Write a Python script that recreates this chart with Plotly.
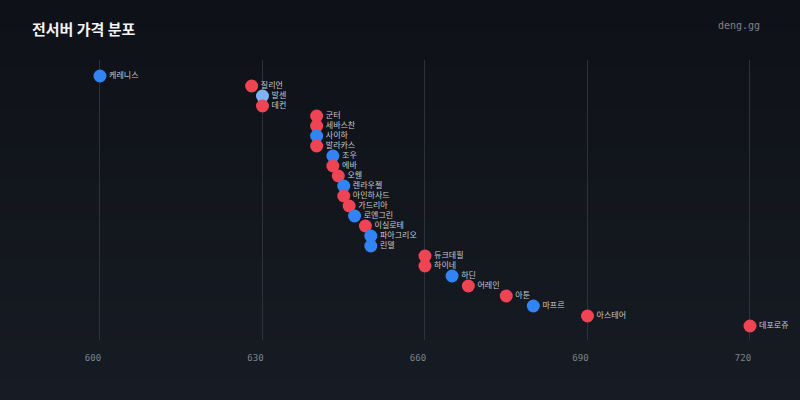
import plotly.graph_objects as go

# server names and prices (top to bottom)
names = ["케레니스", "질리언", "발센", "데컨", "군터", "세바스찬", "사이하", "발라카스",
         "조우", "에바", "오웬", "렌라우젤", "아인하사드", "가드리아", "로엔그린", "이실로테",
         "파아그리오", "린델", "듀크데필", "하이네", "하딘", "어레인", "아툰", "마프르",
         "아스테어", "데포로쥬"]
prices = [600, 628, 630, 630, 640, 640, 640, 640,
          643, 643, 644, 645, 645, 646, 647, 649,
          650, 650, 660, 660, 665, 668, 675, 680,
          690, 720]
groups = ["b", "r", "l", "r", "r", "r", "b", "r",
          "b", "r", "r", "b", "r", "r", "b", "r",
          "b", "b", "r", "r", "b", "r", "r", "b",
          "r", "r"]
tick_vals = [600, 630, 660, 690, 720]

palette = {"r": "#ef4454", "b": "#3284f5", "l": "#7fb2f5"}
colors = [palette[g] for g in groups]

fig = go.Figure(go.Scatter(
    x=prices,
    y=list(range(len(names))),
    mode="markers+text",
    text=names,
    textposition="middle right",
    textfont=dict(family="Noto Sans CJK KR", size=8, color="#c4c9d0"),
    marker=dict(size=13, color=colors, line=dict(width=0)),
    hoverinfo="x+text",
    cliponaxis=False,
))

# vertical background gradient, drawn as thin bands behind the plot
H, T, B = 400, 60, 60
top_rgb, bot_rgb = (14, 17, 23), (23, 27, 35)
n = 40
bands = []
for i in range(n):
    f = i / (n - 1)
    c = tuple(round(top_rgb[k] + (bot_rgb[k] - top_rgb[k]) * f) for k in range(3))
    y1_px = H - i * H / n
    y0_px = H - (i + 1) * H / n
    to_paper = lambda p: (p - B) / (H - T - B)
    bands.append(dict(type="rect", xref="paper", yref="paper", layer="below",
                      x0=-0.1, x1=1.1, y0=to_paper(y0_px) - 0.002, y1=to_paper(y1_px) + 0.002,
                      fillcolor="rgb(%d,%d,%d)" % c, line=dict(width=0)))

fig.update_layout(
    width=800, height=400,
    margin=dict(l=30, r=20, t=60, b=60),
    paper_bgcolor="#12161c",
    plot_bgcolor="rgba(0,0,0,0)",
    showlegend=False,
    shapes=bands,
    xaxis=dict(
        range=[587.08, 725.54],
        tickvals=tick_vals,
        showgrid=True, gridcolor="#2c313a", gridwidth=1,
        zeroline=False, showline=False, ticks="",
        tickfont=dict(family="DejaVu Sans Mono", size=9, color="#7d838c"),
        ticklabelshift=-7, ticklabelstandoff=11,
    ),
    yaxis=dict(
        range=[len(names) + 0.4, -1.6],
        visible=False,
    ),
    annotations=[
        dict(text="<b>전서버 가격 분포</b>", xref="paper", yref="paper",
             x=0, y=1, yshift=32, xanchor="left", yanchor="middle", showarrow=False,
             font=dict(family="Noto Sans CJK KR", size=15, color="#f2f4f6")),
        dict(text="deng.gg", xref="paper", yref="paper",
             x=1, y=1, xshift=-18, yshift=35, xanchor="right", yanchor="middle", showarrow=False,
             font=dict(family="DejaVu Sans Mono", size=10, color="#7d838c")),
    ],
)

fig.write_html("out.html", config={"displayModeBar": False},
               post_script="document.body.style.margin='0';")
